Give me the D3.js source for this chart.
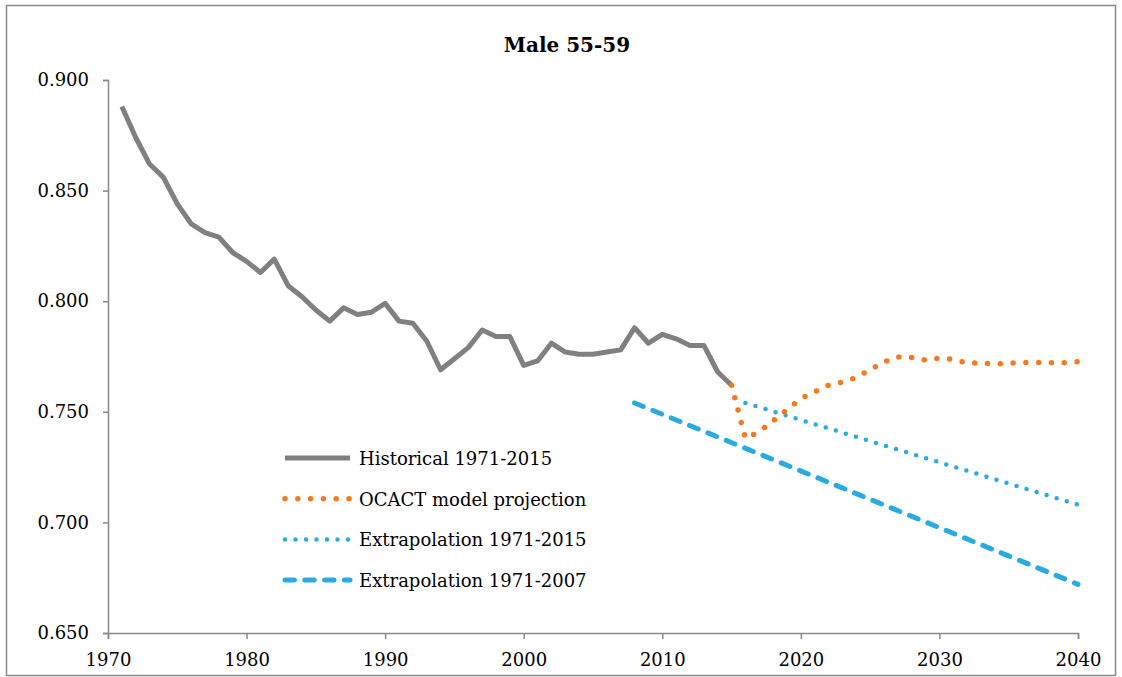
<!DOCTYPE html>
<html>
<head>
<meta charset="utf-8">
<script src="https://cdn.jsdelivr.net/npm/d3@7"></script>
<style>
  body { margin: 0; background: #fff; }
  svg text { font-family: "DejaVu Serif", "Liberation Serif", serif; fill: #000; }
</style>
</head>
<body>
<script>
// Historical series 1971-2015
const histYears = d3.range(1971, 2016);
const histValues = [
    0.888, 0.874, 0.862, 0.856, 0.844, 0.835, 0.831, 0.829, 0.822, 0.818,
    0.813, 0.819, 0.807, 0.802, 0.796, 0.791, 0.797, 0.794, 0.795, 0.799,
    0.791, 0.790, 0.782, 0.769, 0.774, 0.779, 0.787, 0.784, 0.784, 0.771,
    0.773, 0.781, 0.777, 0.776, 0.776, 0.777, 0.778, 0.788, 0.781, 0.785,
    0.783, 0.780, 0.780, 0.768, 0.762
];

// OCACT model projection 2015-2040
const ocactYears = d3.range(2015, 2041);
const ocactValues = [
    0.762, 0.738, 0.741, 0.746, 0.751, 0.756, 0.759, 0.762, 0.7635, 0.7655,
    0.769, 0.7725, 0.7748, 0.7745, 0.7734, 0.7742, 0.7737, 0.7721, 0.772, 0.7716,
    0.772, 0.7723, 0.7723, 0.7722, 0.7722, 0.7727
];

// Linear extrapolations (start and end)
const extrap2015Years = [2016, 2040];
const extrap2015Values = [0.754, 0.708];
const extrap2007Years = [2008, 2040];
const extrap2007Values = [0.754, 0.672];

const xTicks = [1970, 1980, 1990, 2000, 2010, 2020, 2030, 2040];
const yTicks = [0.65, 0.70, 0.75, 0.80, 0.85, 0.90];

const legendLabels = ["Historical 1971-2015", "OCACT model projection", "Extrapolation 1971-2015", "Extrapolation 1971-2007"];

const W = 1122, H = 677;
const margin = { top: 80, right: 44, bottom: 44, left: 108 };
const width = W - margin.left - margin.right;
const height = H - margin.top - margin.bottom;

const svg = d3.select("body").append("svg")
    .attr("width", W)
    .attr("height", H);

// outer chart border
svg.append("rect")
    .attr("x", 6.5).attr("y", 5.5)
    .attr("width", 1109).attr("height", 670)
    .attr("fill", "none")
    .attr("stroke", "#898989")
    .attr("stroke-width", 1.5);

svg.append("text")
    .attr("x", 567).attr("y", 52)
    .attr("text-anchor", "middle")
    .style("font-size", "20px")
    .style("font-weight", "bold")
    .text("Male 55-59");

const g = svg.append("g")
    .attr("transform", `translate(${margin.left},${margin.top})`);

const x = d3.scaleLinear().domain([1970, 2040]).range([0, width]);
const y = d3.scaleLinear().domain([0.65, 0.90]).range([height, 0]);

// axes
const xAxis = g.append("g")
    .attr("transform", `translate(0,${height})`)
    .call(d3.axisBottom(x).tickValues(xTicks).tickFormat(d3.format("d")).tickSize(6).tickPadding(10));
const yAxis = g.append("g")
    .call(d3.axisLeft(y).tickValues(yTicks).tickFormat(d3.format(".3f")).tickSize(5).tickPadding(14));

[xAxis, yAxis].forEach(a => {
    a.select(".domain").attr("stroke", "#898989").attr("stroke-width", 1.5);
    a.selectAll(".tick line").attr("stroke", "#898989").attr("stroke-width", 1.5);
    a.selectAll(".tick text")
        .style("font-family", "'DejaVu Serif', serif")
        .style("font-size", "18px")
        .attr("fill", "#000");
});
xAxis.selectAll(".tick text").attr("dy", "0.95em");

const line = d3.line()
    .x(d => x(d[0]))
    .y(d => y(d[1]));

const zip = (a, b) => a.map((v, i) => [v, b[i]]);

// dashed extrapolation 1971-2007
g.append("path")
    .datum(zip(extrap2007Years, extrap2007Values))
    .attr("d", line)
    .attr("fill", "none")
    .attr("stroke", "#29ABE2")
    .attr("stroke-width", 5)
    .attr("stroke-linecap", "round")
    .attr("stroke-dasharray", "9.4,10.4");

// dotted extrapolation 1971-2015
g.append("path")
    .datum(zip(extrap2015Years, extrap2015Values))
    .attr("d", line)
    .attr("fill", "none")
    .attr("stroke", "#29ABE2")
    .attr("stroke-width", 4.5)
    .attr("stroke-linecap", "round")
    .attr("stroke-dasharray", "0,10.5");

// historical
g.append("path")
    .datum(zip(histYears, histValues))
    .attr("d", line)
    .attr("fill", "none")
    .attr("stroke", "#808080")
    .attr("stroke-width", 5)
    .attr("stroke-linejoin", "round");

// OCACT projection
g.append("path")
    .datum(zip(ocactYears, ocactValues))
    .attr("d", line)
    .attr("fill", "none")
    .attr("stroke", "#F47A20")
    .attr("stroke-width", 5.5)
    .attr("stroke-linecap", "round")
    .attr("stroke-dasharray", "0,12.8");

// legend
const legendStyles = [
    { color: "#808080", width: 5, dash: null, cap: "butt" },
    { color: "#F47A20", width: 5.5, dash: "0,12.8", cap: "round" },
    { color: "#29ABE2", width: 4.5, dash: "0,10.5", cap: "round" },
    { color: "#29ABE2", width: 5, dash: "9.4,10.4", cap: "round" }
];

const legend = svg.append("g");
legendLabels.forEach((label, i) => {
    const ly = 458 + i * 40.7;
    const s = legendStyles[i];
    legend.append("line")
        .attr("x1", 285).attr("x2", 350)
        .attr("y1", ly).attr("y2", ly)
        .attr("stroke", s.color)
        .attr("stroke-width", s.width)
        .attr("stroke-linecap", s.cap)
        .attr("stroke-dasharray", s.dash);
    legend.append("text")
        .attr("x", 359).attr("y", ly + 7)
        .style("font-size", "18px")
        .text(label);
});
</script>
</body>
</html>
